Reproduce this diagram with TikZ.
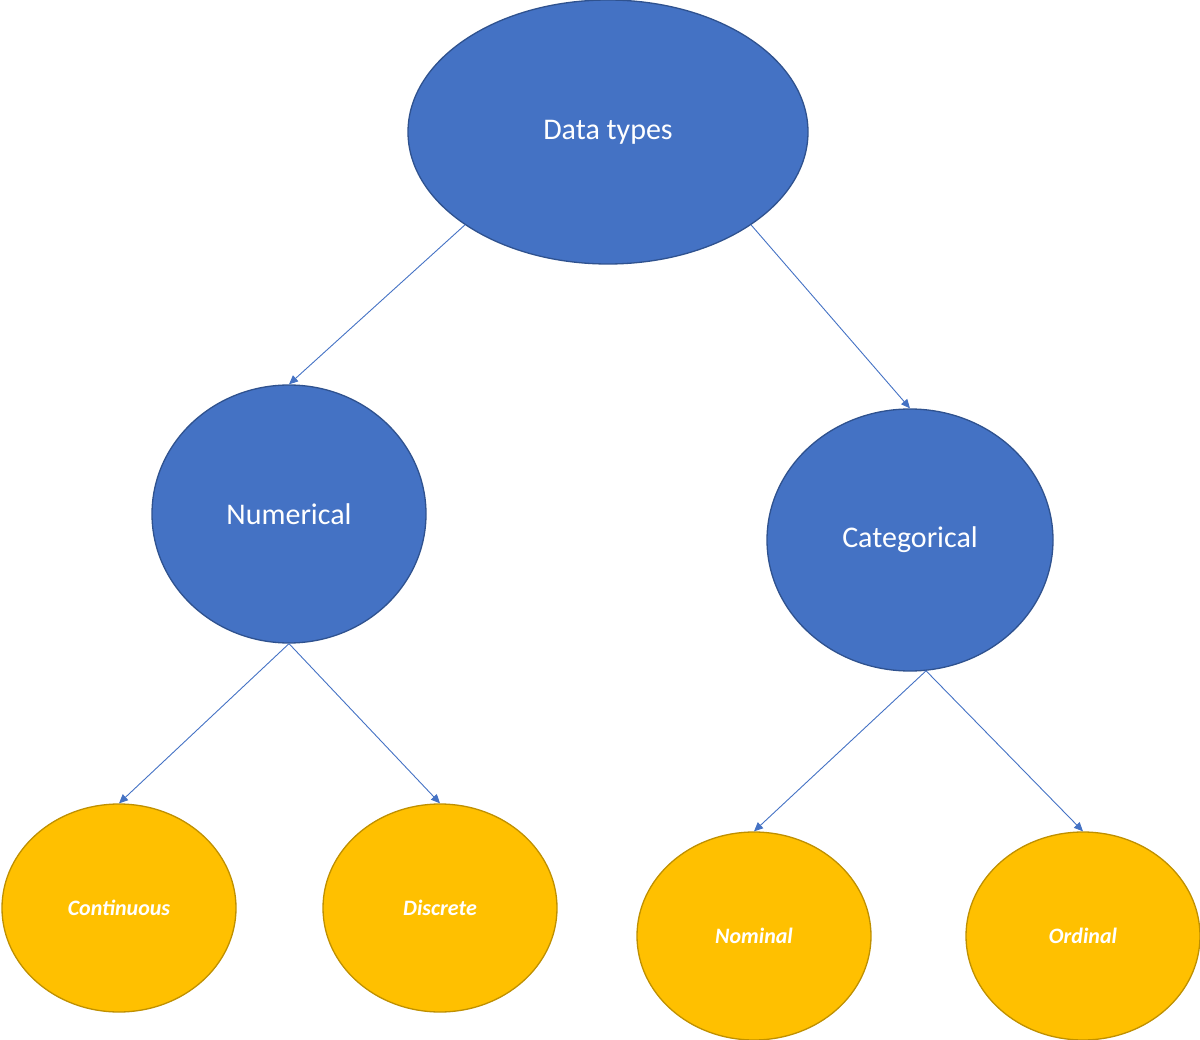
\documentclass[tikz,border=0pt]{standalone}
\usepackage{fontspec}
\setmainfont{Carlito}
\usetikzlibrary{shapes.geometric,arrows.meta}
\definecolor{nblue}{HTML}{4472C4}
\definecolor{bblue}{HTML}{2F528F}
\definecolor{ngold}{HTML}{FFC000}
\definecolor{bgold}{HTML}{BF9000}
\begin{document}
\begin{tikzpicture}[x=1pt,y=-1pt,
  top/.style={ellipse,draw=bblue,fill=nblue,line width=1.3pt,text=white,font=\fontsize{30}{36}\selectfont,inner sep=0pt},
  leaf/.style={ellipse,draw=bgold,fill=ngold,line width=1.3pt,text=white,font=\fontsize{22}{26}\selectfont\bfseries\itshape,minimum width=234pt,minimum height=208pt,inner sep=0pt},
  arr/.style={draw=nblue,line width=0.9pt,-{Triangle[length=9pt,width=8pt]}}]
\useasboundingbox (0,0) rectangle (1200,1040);
\node[top,minimum width=400pt,minimum height=264pt] (dt) at (608,132) {Data types};
\node[top,minimum width=274pt,minimum height=258pt] (num) at (289,514) {Numerical};
\node[top,minimum width=286pt,minimum height=262pt] (cat) at (910,540) {Categorical};
\node[leaf] (con) at (119,908) {Continuous};
\node[leaf] (dis) at (440,908) {Discrete};
\node[leaf] (nom) at (754,936) {Nominal};
\node[leaf] (ord) at (1083,936) {Ordinal};
\draw[arr] (dt.213) -- (num.north);
\draw[arr] (dt.327) -- (cat.north);
\draw[arr] (num.south) -- (con.north);
\draw[arr] (num.south) -- (dis.north);
\draw[arr] (cat.277) -- (nom.north);
\draw[arr] (cat.277) -- (ord.north);
\end{tikzpicture}
\end{document}
